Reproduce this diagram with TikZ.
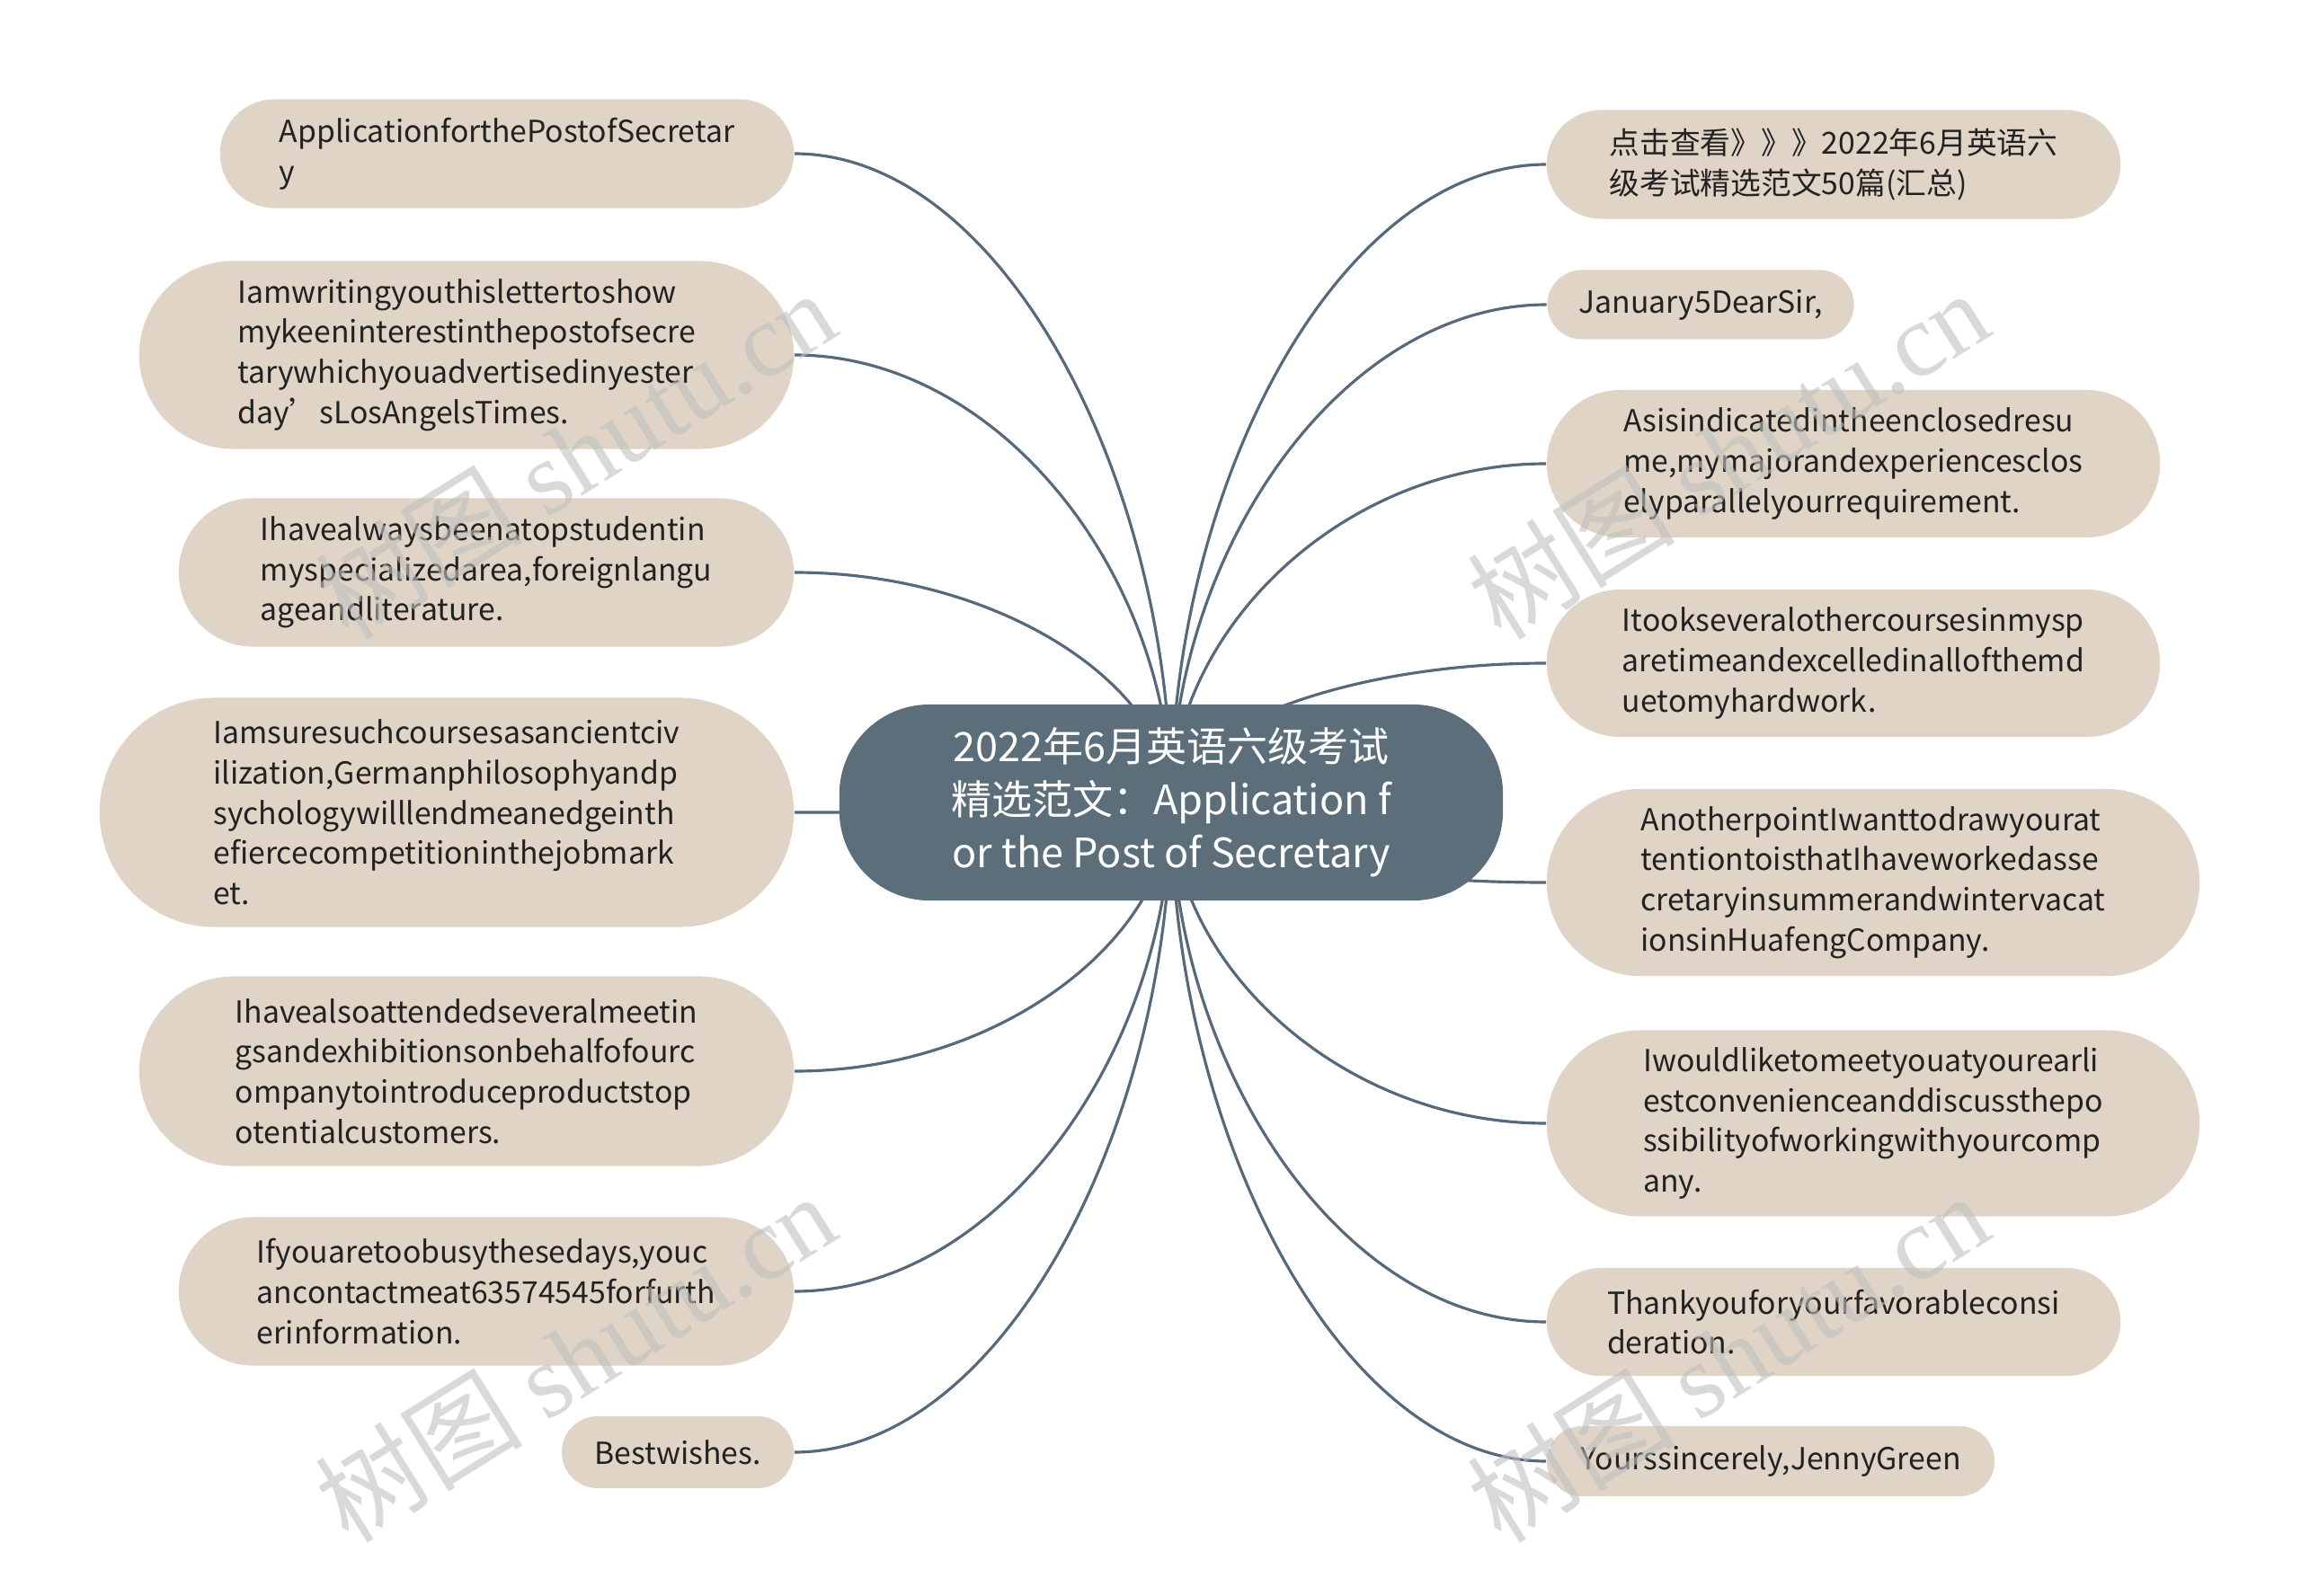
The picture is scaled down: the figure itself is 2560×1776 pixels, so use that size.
\documentclass[tikz,border=0pt]{standalone}
\usepackage{fontspec}
\setmainfont{Noto Sans CJK SC}
\newfontfamily\wmserif{Liberation Serif}
\usepackage{tikz}
\usetikzlibrary{positioning,shapes.misc,calc,backgrounds}
\usepackage{xcolor}
\definecolor{rootfill}{HTML}{5B6E7A}
\definecolor{leaffill}{HTML}{DFD4C5}
\definecolor{linkcol}{HTML}{56697A}
\definecolor{leaftext}{HTML}{222222}

\begin{document}
\begin{tikzpicture}[
    x=0.01cm, y=-0.01cm,
    root/.style={fill=rootfill, rounded corners=1cm, align=center, text=white, font=\fontsize{12.8pt}{16.8pt}\selectfont, minimum width=7.38cm, minimum height=2.18cm},
    leaf/.style={rounded rectangle, fill=leaffill, align=left, text=leaftext, inner sep=0pt, font=\fontsize{9.6pt}{12.7pt}\selectfont},
    link/.style={draw=linkcol, line width=0.9pt, to path={.. controls ($(\tikztostart)!0.5!(\tikztostart |- \tikztotarget)$) and ($(\tikztotarget)!0.55!(\tikztotarget -| \tikztostart)$) .. (\tikztotarget)}},
    wmark/.style={rotate=32, text=gray!50, opacity=0.6, font=\fontsize{33pt}{33pt}\selectfont}
]
\useasboundingbox (0,0) rectangle (2560,1776);
\node[root] (root) at (1303,893) {2022年6月英语六级考试\\精选范文：Application f\\or the Post of Secretary};

\node[leaf, minimum width=6.38cm, minimum height=1.21cm] (l1) at (564,171) {ApplicationforthePostofSecretar\\y};
\node[leaf, minimum width=7.28cm, minimum height=2.09cm] (l2) at (519,395) {Iamwritingyouthislettertoshow\\mykeeninterestinthepostofsecre\\tarywhichyouadvertisedinyester\\day’sLosAngelsTimes.};
\node[leaf, minimum width=6.84cm, minimum height=1.65cm] (l3) at (541,637) {Ihavealwaysbeenatopstudentin\\myspecializedarea,foreignlangu\\ageandliterature.};
\node[leaf, minimum width=7.72cm, minimum height=2.55cm] (l4) at (497,904) {Iamsuresuchcoursesasancientciv\\ilization,Germanphilosophyandp\\sychologywilllendmeanedgeinth\\efiercecompetitioninthejobmark\\et.};
\node[leaf, minimum width=7.28cm, minimum height=2.11cm] (l5) at (519,1192) {Ihavealsoattendedseveralmeetin\\gsandexhibitionsonbehalfofourc\\ompanytointroduceproductstop\\otentialcustomers.};
\node[leaf, minimum width=6.84cm, minimum height=1.65cm] (l6) at (541,1437) {Ifyouaretoobusythesedays,youc\\ancontactmeat63574545forfurth\\erinformation.};
\node[leaf, minimum width=2.58cm, minimum height=0.80cm] (l7) at (754,1616) {Bestwishes.};

\node[leaf, minimum width=6.38cm, minimum height=1.21cm] (r1) at (2040,183) {点击查看》》》2022年6月英语六\\级考试精选范文50篇(汇总)};
\node[leaf, minimum width=3.41cm, minimum height=0.77cm] (r2) at (1892,339) {January5DearSir,};
\node[leaf, minimum width=6.82cm, minimum height=1.64cm] (r3) at (2062,516) {Asisindicatedintheenclosedresu\\me,mymajorandexperiencesclos\\elyparallelyourrequirement.};
\node[leaf, minimum width=6.82cm, minimum height=1.64cm] (r4) at (2062,738) {Itookseveralothercoursesinmysp\\aretimeandexcelledinallofthemd\\uetomyhardwork.};
\node[leaf, minimum width=7.26cm, minimum height=2.08cm] (r5) at (2084,982) {AnotherpointIwanttodrawyourat\\tentiontoisthatIhaveworkedasse\\cretaryinsummerandwintervacat\\ionsinHuafengCompany.};
\node[leaf, minimum width=7.26cm, minimum height=2.07cm] (r6) at (2084,1250) {Iwouldliketomeetyouatyourearli\\estconvenienceanddiscussthepo\\ssibilityofworkingwithyourcomp\\any.};
\node[leaf, minimum width=6.38cm, minimum height=1.20cm] (r7) at (2040,1471) {Thankyouforyourfavorableconsi\\deration.};
\node[leaf, minimum width=4.98cm, minimum height=0.78cm] (r8) at (1970,1626) {Yourssincerely,JennyGreen};

\begin{scope}[on background layer]
\draw[link] (root.center) to (l1.east);
\draw[link] (root.center) to (l2.east);
\draw[link] (root.center) to (l3.east);
\draw[link] (root.center) to (l4.east);
\draw[link] (root.center) to (l5.east);
\draw[link] (root.center) to (l6.east);
\draw[link] (root.center) to (l7.east);
\draw[link] (root.center) to (r1.west);
\draw[link] (root.center) to (r2.west);
\draw[link] (root.center) to (r3.west);
\draw[link] (root.center) to (r4.west);
\draw[link] (root.center) to (r5.west);
\draw[link] (root.center) to (r6.west);
\draw[link] (root.center) to (r7.west);
\draw[link] (root.center) to (r8.west);
\end{scope}

\node[wmark] (wm1) at (640,505) {树图 {\wmserif shutu.cn}};
\node[wmark] (wm2) at (1922,505) {树图 {\wmserif shutu.cn}};
\node[wmark] (wm3) at (640,1510) {树图 {\wmserif shutu.cn}};
\node[wmark] (wm4) at (1922,1510) {树图 {\wmserif shutu.cn}};
\end{tikzpicture}
\end{document}
